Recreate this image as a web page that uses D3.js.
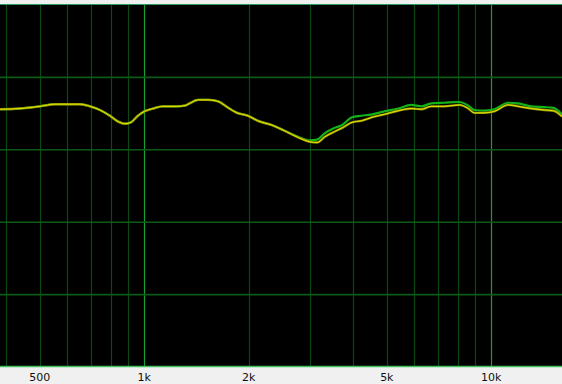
<!DOCTYPE html>
<html>
<head>
<meta charset="utf-8">
<script src="https://cdn.jsdelivr.net/npm/d3@7"></script>
<style>
  html, body { margin: 0; padding: 0; background: #f0f0f0; }
  svg { display: block; }
</style>
</head>
<body>
<div id="chart"></div>
<script>
// frequency points (Hz)
const freqs = [384, 438, 500, 553, 600, 653, 698, 745, 796, 840, 880, 916, 953, 1000,
  1060, 1130, 1240, 1310, 1350, 1430, 1525, 1630, 1745, 1850, 1990, 2125, 2335, 2545, 2775,
  3000, 3145, 3315, 3530, 3710, 3970, 4220, 4540, 4920, 5395, 5880, 6285, 6715, 7320, 8090,
  8585, 8935, 9545, 10200, 11190, 11960, 13040, 14210, 15090, 16000];

// yellow channel (dB)
const yellowDb = [-4.4, -4.3, -4.0, -3.7, -3.7, -3.7, -4.0, -4.5, -5.3, -6.1, -6.4, -6.2, -5.4, -4.7,
  -4.3, -4.0, -4.0, -3.9, -3.6, -3.1, -3.1, -3.3, -4.2, -4.9, -5.3, -6.0, -6.6, -7.4, -8.3,
  -8.9, -9.0, -8.2, -7.5, -7.0, -6.2, -6.0, -5.5, -5.1, -4.6, -4.3, -4.4, -4.0, -4.0, -3.8,
  -4.3, -4.9, -4.9, -4.7, -3.8, -4.0, -4.3, -4.5, -4.6, -5.4];

// green channel (dB)
const greenDb = [-4.4, -4.3, -4.0, -3.7, -3.7, -3.7, -4.0, -4.5, -5.3, -6.1, -6.4, -6.2, -5.4, -4.7,
  -4.3, -4.0, -4.0, -3.9, -3.6, -3.1, -3.1, -3.3, -4.2, -4.9, -5.3, -6.0, -6.6, -7.4, -8.2,
  -8.7, -8.6, -7.7, -7.0, -6.6, -5.5, -5.3, -5.1, -4.7, -4.3, -3.8, -4.0, -3.6, -3.5, -3.4,
  -3.9, -4.5, -4.6, -4.4, -3.5, -3.6, -4.0, -4.1, -4.2, -5.1];

// grid
const minorFreqs = [400, 500, 600, 700, 800, 900, 2000, 3000, 4000, 5000, 6000, 7000, 8000, 9000];
const majorFreqs = [1000, 10000];
const dbGrid = [0, -10, -20, -30];
const tickFreqs = [500, 1000, 2000, 5000, 10000];
const tickLabels = ['500', '1k', '2k', '5k', '10k'];

const width = 562;
const height = 384;
const plot = { top: 5, bottom: 367 };

const svg = d3.select('#chart').append('svg')
  .attr('width', width)
  .attr('height', height);

// 1k at x=144.3, 10k at x=491.3
const x = d3.scaleLog()
  .domain([383.8, 15990])
  .range([0, width]);

const y = d3.scaleLinear()
  .domain([-40, 10])
  .range([plot.bottom, plot.top]);

svg.append('rect')
  .attr('width', width)
  .attr('height', height)
  .attr('fill', '#f0f0f0');

svg.append('rect')
  .attr('x', 0)
  .attr('y', plot.top)
  .attr('width', width)
  .attr('height', plot.bottom - plot.top)
  .attr('fill', '#000');

// vertical grid
svg.append('g')
  .selectAll('line')
  .data(minorFreqs)
  .enter()
  .append('line')
  .attr('x1', (d) => Math.round(x(d)) + 0.5)
  .attr('x2', (d) => Math.round(x(d)) + 0.5)
  .attr('y1', plot.top)
  .attr('y2', plot.bottom)
  .attr('stroke', '#0a4a12')
  .attr('stroke-width', 1.2);

svg.append('g')
  .selectAll('line')
  .data(majorFreqs)
  .enter()
  .append('line')
  .attr('x1', (d) => Math.round(x(d)) + 0.5)
  .attr('x2', (d) => Math.round(x(d)) + 0.5)
  .attr('y1', plot.top)
  .attr('y2', plot.bottom)
  .attr('stroke', '#14a032')
  .attr('stroke-width', 1.2);

// horizontal grid
svg.append('g')
  .selectAll('line')
  .data(dbGrid)
  .enter()
  .append('line')
  .attr('x1', 0)
  .attr('x2', width)
  .attr('y1', (d) => y(d))
  .attr('y2', (d) => y(d))
  .attr('stroke', '#0c5a18')
  .attr('stroke-width', 1.6);

// frame lines
svg.append('line')
  .attr('x1', 0).attr('x2', width)
  .attr('y1', plot.top - 0.5).attr('y2', plot.top - 0.5)
  .attr('stroke', '#2c9a5a')
  .attr('stroke-width', 1.2);

svg.append('line')
  .attr('x1', 0).attr('x2', width)
  .attr('y1', plot.bottom - 0.5).attr('y2', plot.bottom - 0.5)
  .attr('stroke', '#40c060')
  .attr('stroke-width', 1.4);

// curves
const line = (vals) => d3.line()
  .x((d) => x(d))
  .y((d, i) => y(vals[i]))
  .curve(d3.curveMonotoneX)(freqs);

svg.append('path')
  .attr('d', line(greenDb))
  .attr('fill', 'none')
  .attr('stroke', '#10b418')
  .attr('stroke-width', 2.2);

svg.append('path')
  .attr('d', line(yellowDb))
  .attr('fill', 'none')
  .attr('stroke', '#8a8a00')
  .attr('stroke-width', 2.4);

svg.append('path')
  .attr('d', line(yellowDb))
  .attr('fill', 'none')
  .attr('stroke', '#e8e800')
  .attr('stroke-width', 1);

// frequency labels
svg.append('g')
  .selectAll('text')
  .data(tickFreqs)
  .enter()
  .append('text')
  .attr('x', (d) => x(d))
  .attr('y', 381)
  .attr('text-anchor', 'middle')
  .attr('font-family', 'DejaVu Sans, sans-serif')
  .attr('font-size', '11px')
  .attr('fill', '#111')
  .text((d, i) => tickLabels[i]);
</script>
</body>
</html>
